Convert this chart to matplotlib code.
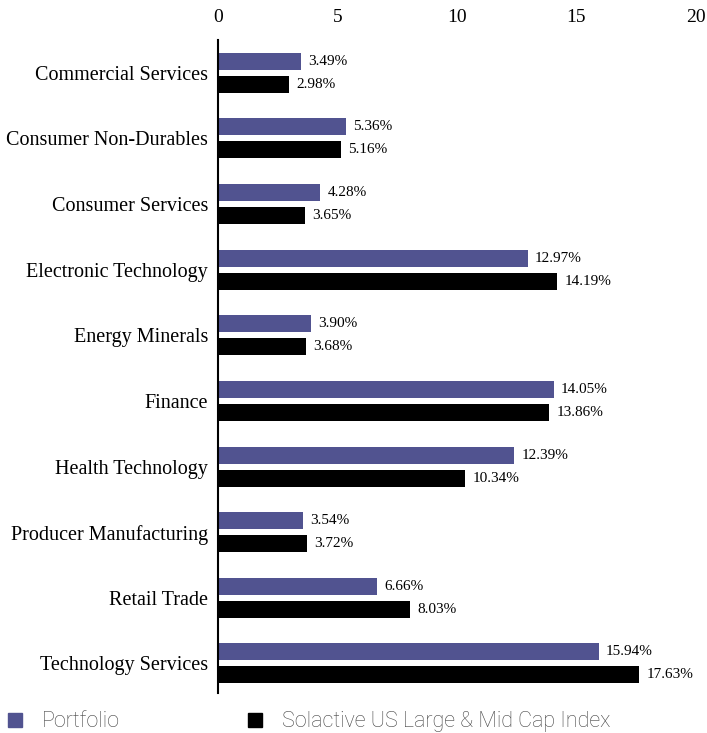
import matplotlib.pyplot as plt
import numpy as np

categories = ['Commercial Services', 'Consumer Non-Durables', 'Consumer Services',
              'Electronic Technology', 'Energy Minerals', 'Finance', 'Health Technology',
              'Producer Manufacturing', 'Retail Trade', 'Technology Services']
portfolio = [3.49, 5.36, 4.28, 12.97, 3.90, 14.05, 12.39, 3.54, 6.66, 15.94]
index = [2.98, 5.16, 3.65, 14.19, 3.68, 13.86, 10.34, 3.72, 8.03, 17.63]
ticks = [0, 5, 10, 15, 20]

c_port = '#515390'
c_idx = '#000000'
serif = 'Liberation Serif'

fig = plt.figure(figsize=(7.07, 7.33), dpi=100)
ax = fig.add_axes([0.3083, 0.0546, 0.676, 0.8909])

y = np.arange(len(categories))
h = 0.26
ax.barh(y - 0.175, portfolio, height=h, color=c_port)
ax.barh(y + 0.175, index, height=h, color=c_idx)

for yi, v in zip(y, portfolio):
    ax.text(v + 0.3, yi - 0.175, f'{v:.2f}%', va='center', ha='left',
            fontsize=11, family=serif)
for yi, v in zip(y, index):
    ax.text(v + 0.3, yi + 0.175, f'{v:.2f}%', va='center', ha='left',
            fontsize=11, family=serif)

ax.set_xlim(0, 20)
ax.set_ylim(9.45, -0.5)
ax.set_xticks(ticks)
ax.set_xticklabels([str(t) for t in ticks], family=serif, fontsize=14)
ax.set_yticks(y)
ax.set_yticklabels(categories, family=serif, fontsize=14.5)
ax.xaxis.tick_top()
ax.tick_params(axis='both', length=0)
ax.tick_params(axis='x', pad=10)
ax.tick_params(axis='y', pad=7)
for s in ['top', 'right', 'bottom']:
    ax.spines[s].set_visible(False)
ax.spines['left'].set_linewidth(1.5)

# legend drawn in figure coords
fig.patches.append(plt.Rectangle((0.011, 0.008), 0.02, 0.019, color=c_port,
                                 transform=fig.transFigure, figure=fig))
fig.text(0.059, 0.016, 'Portfolio', va='center', ha='left', fontsize=15.5,
         family='Roboto', fontweight='light', color='#444444')
fig.patches.append(plt.Rectangle((0.351, 0.008), 0.02, 0.019, color=c_idx,
                                 transform=fig.transFigure, figure=fig))
fig.text(0.399, 0.016, 'Solactive US Large & Mid Cap Index', va='center', ha='left',
         fontsize=15.5, family='Roboto', fontweight='light', color='#444444')

fig.savefig('out.png', dpi=100)
